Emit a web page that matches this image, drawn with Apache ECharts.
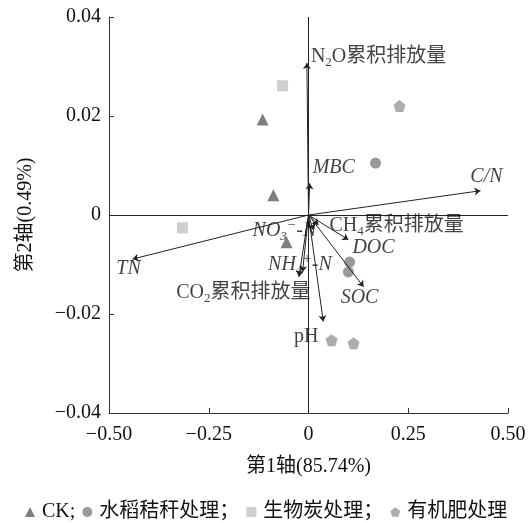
<!DOCTYPE html>
<html><head><meta charset="utf-8">
<script src="https://cdn.jsdelivr.net/npm/echarts@6/dist/echarts.min.js"></script>
<style>html,body{margin:0;padding:0;background:#fff}#c{width:532px;height:523px}</style>
</head><body><div id="c"></div>
<script>
// ---- data ----
const groups = ['CK', '水稻秸秆处理', '生物炭处理', '有机肥处理'];
const ckPts = [[-0.115, 0.0193], [-0.088, 0.0040], [-0.055, -0.0055]];
const strawPts = [[0.168, 0.0105], [0.103, -0.0095], [0.100, -0.0115]];
const biocharPts = [[-0.065, 0.0261], [-0.316, -0.0026]];
const manurePts = [[0.228, 0.0220], [0.058, -0.0253], [0.113, -0.0259]];

const varKeys = ['N2O', 'MBC', 'CN', 'TN', 'CH4', 'NO3', 'DOC', 'NH4', 'SOC', 'CO2', 'pH'];
const varX = [-0.004, 0.003, 0.431, -0.441, 0.025, 0.012, 0.100, -0.024, 0.138, -0.015, 0.037];
const varY = [0.0307, 0.0064, 0.0049, -0.0089, -0.0020, -0.0030, -0.0050, -0.0125, -0.0145, -0.0115, -0.0215];
const varText = [
  'N{sub|2}O累积排放量', '{i|MBC}', '{i|C/N}', '{i|TN}', 'CH{sub|4}累积排放量',
  '{i|NO}{isub|3}{isup|−}{i|-N}', '{i|DOC}', '{i|NH}{isub|4}{isup|+}{i|-N}', '{i|SOC}',
  'CO{sub|2}累积排放量', 'pH'
];
const xRange = [-0.5, 0.5], xStep = 0.25;
const yRange = [-0.04, 0.04], yStep = 0.02;
const xTitle = '第1轴(85.74%)';
const yTitle = '第2轴(0.49%)';

// ---- styles ----
const FONT = '"Liberation Serif", "Times New Roman", "Noto Sans CJK SC", serif';
const FS = 20;
const labelPlace = {
  N2O: {position: 'right', offset: [-1, -6]},
  MBC: {position: 'right', offset: [-2, -16]},
  CN:  {position: 'top', offset: [6, 1]},
  TN:  {position: 'bottom', offset: [-4, -5]},
  CH4: {position: 'right', offset: [6, 1]},
  NO3: {position: 'left', offset: [8, 1]},
  DOC: {position: 'right', offset: [-1, 8]},
  NH4: {position: 'top', offset: [1, 6]},
  SOC: {position: 'bottom', offset: [-4, -4]},
  CO2: {position: 'left', offset: [13, 21]},
  pH:  {position: 'bottom', offset: [-17, 0]}
};
const rich = {
  i: {fontStyle: 'italic', fontSize: FS, fontFamily: FONT, color: '#111'},
  sub: {fontSize: 13, fontFamily: FONT, color: '#111', padding: [12, 0, 0, 0]},
  isub: {fontSize: 13, fontStyle: 'italic', fontFamily: FONT, color: '#111', padding: [12, 0, 0, 0]},
  isup: {fontSize: 14, fontStyle: 'italic', fontFamily: FONT, color: '#111', padding: [0, 0, 12, 0]}
};
const pentagon = 'path://M0,-1 L0.951,-0.309 L0.588,0.809 L-0.588,0.809 L-0.951,-0.309 Z';
const fmt = v => v === 0 ? '0' : (v < 0 ? '−' : '') + Math.abs(v).toFixed(2);

const arrowData = varKeys.map((k, i) => ({coords: [[0, 0], [varX[i], varY[i]]]}));
const labelData = varKeys.map((k, i) => ({
  value: [varX[i], varY[i]],
  label: Object.assign({show: true, formatter: varText[i]}, labelPlace[k])
}));

const axisCommon = {
  axisLine: {onZero: false, lineStyle: {color: '#333', width: 1}},
  axisTick: {inside: true, length: 5, lineStyle: {color: '#333'}},
  splitLine: {show: false},
  axisLabel: {color: '#111', fontSize: FS, fontFamily: FONT, formatter: fmt},
  nameTextStyle: {color: '#111', fontSize: 20, fontFamily: FONT}
};

const chart = echarts.init(document.getElementById('c'));
chart.setOption({
  animation: false,
  textStyle: {fontFamily: FONT},
  grid: {left: 109, right: 24, top: 17, bottom: 110},
  xAxis: Object.assign({}, axisCommon, {
    type: 'value', min: xRange[0], max: xRange[1], interval: xStep,
    name: xTitle, nameLocation: 'middle', nameGap: 44,
    axisLabel: Object.assign({}, axisCommon.axisLabel, {margin: 12})
  }),
  yAxis: Object.assign({}, axisCommon, {
    type: 'value', min: yRange[0], max: yRange[1], interval: yStep,
    name: yTitle, nameLocation: 'middle', nameGap: 73,
    axisLabel: Object.assign({}, axisCommon.axisLabel, {margin: 8})
  }),
  legend: {
    left: 20, bottom: 1, padding: [0, 5], itemWidth: 10, itemHeight: 10, itemGap: 7,
    textStyle: {fontSize: 20, color: '#111', fontFamily: FONT, padding: [0, 0, 0, 2]},
    formatter: n => n === groups[3] ? n : (n === 'CK' ? n + ';' : n + '；'),
    data: [
      {name: groups[0], icon: 'triangle'},
      {name: groups[1], icon: 'circle'},
      {name: groups[2], icon: 'rect'},
      {name: groups[3], icon: pentagon}
    ]
  },
  series: [
    {
      type: 'scatter', name: groups[0], data: ckPts, symbol: 'triangle', symbolSize: 12,
      itemStyle: {color: '#5e5e5e'}, z: 3,
      markLine: {
        silent: true, symbol: ['none', 'none'], label: {show: false},
        lineStyle: {color: '#222', width: 1, type: 'solid'},
        data: [{xAxis: 0}, {yAxis: 0}]
      }
    },
    {type: 'scatter', name: groups[1], data: strawPts, symbol: 'circle', symbolSize: 11,
      itemStyle: {color: '#808080'}, z: 3},
    {type: 'scatter', name: groups[2], data: biocharPts, symbol: 'rect', symbolSize: 11,
      itemStyle: {color: '#c2c2c2'}, z: 3},
    {type: 'scatter', name: groups[3], data: manurePts, symbol: pentagon, symbolSize: 12,
      itemStyle: {color: '#999999'}, z: 3},
    {
      type: 'lines', coordinateSystem: 'cartesian2d', data: arrowData,
      symbol: ['none', 'arrow'], symbolSize: [0, 6],
      lineStyle: {color: '#222', width: 1, opacity: 1}, z: 4, silent: true
    },
    {
      type: 'scatter', data: labelData, symbolSize: 0, silent: true, z: 5,
      label: {show: true, fontSize: FS, color: '#111', fontFamily: FONT, rich: rich}
    }
  ]
});
</script></body></html>
